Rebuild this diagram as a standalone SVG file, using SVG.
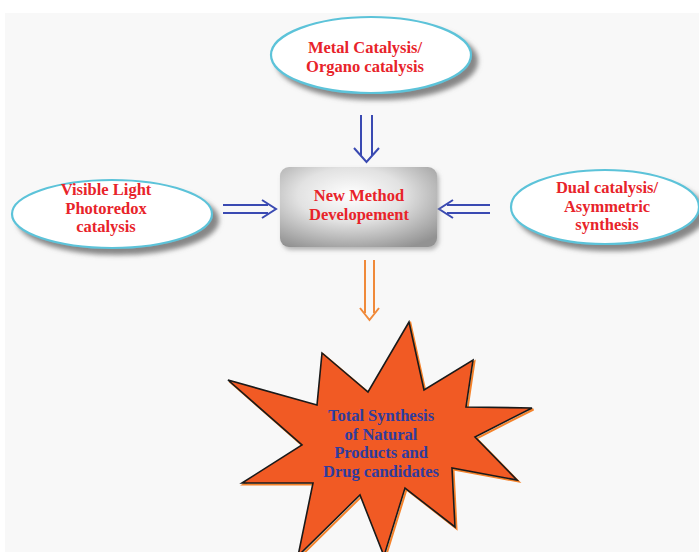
<svg xmlns="http://www.w3.org/2000/svg" width="699" height="552" viewBox="0 0 699 552">
<defs>
<filter id="sh" x="-20%" y="-20%" width="150%" height="150%">
<feDropShadow dx="6" dy="6" stdDeviation="2.5" flood-color="#7a7a7a" flood-opacity="0.9"/>
</filter>
<radialGradient id="box" cx="45%" cy="35%" r="75%">
<stop offset="0" stop-color="#ffffff"/>
<stop offset="0.45" stop-color="#e2e2e2"/>
<stop offset="1" stop-color="#929292"/>
</radialGradient>
<filter id="bsh" x="-10%" y="-10%" width="125%" height="130%">
<feDropShadow dx="2" dy="3" stdDeviation="2" flood-color="#888" flood-opacity="0.6"/>
</filter>
</defs>
<style>
.ell{fill:#ffffff;stroke:#5cc3d9;stroke-width:2.2}
.rt{font-family:"Liberation Serif",serif;font-weight:bold;font-size:16.5px;fill:#e8232a;text-anchor:middle}
.bt{font-family:"Liberation Serif",serif;font-weight:bold;font-size:16.5px;fill:#2f3c9e;text-anchor:middle}
.ab{fill:none;stroke:#3a4ab2;stroke-width:2}
.ao{fill:none;stroke:#f08a3a;stroke-width:2}
</style>
<rect x="0" y="0" width="699" height="552" fill="#ffffff"/>
<rect x="5" y="13" width="694" height="539" fill="#f8f8f8"/>

<g id="connectors">
<path class="ab" d="M361 115V156M372 115V156M354 148L366.5 162L379 148"/>
<path class="ab" d="M223 205H268M223 213H268M262 200L276 209L262 218"/>
<path class="ab" d="M490 205H447M490 213H447M453 200L439 209L453 218"/>
<path class="ao" d="M365 260V313M374 260V313M360 308L369.5 320L379 308"/>
</g>

<g id="metal">
<ellipse class="ell" cx="371" cy="55" rx="100" ry="38" filter="url(#sh)"/>
<text class="rt" x="365" y="53">Metal Catalysis/</text>
<text class="rt" x="365" y="71.5">Organo catalysis</text>
</g>

<g id="visible">
<ellipse class="ell" cx="112" cy="214" rx="100" ry="34" filter="url(#sh)"/>
<text class="rt" x="106" y="195">Visible Light</text>
<text class="rt" x="106" y="213.5">Photoredox</text>
<text class="rt" x="106" y="232">catalysis</text>
</g>

<g id="dual">
<ellipse class="ell" cx="605" cy="207" rx="94" ry="37" filter="url(#sh)"/>
<text class="rt" x="607" y="193">Dual catalysis/</text>
<text class="rt" x="607" y="211.5">Asymmetric</text>
<text class="rt" x="607" y="230">synthesis</text>
</g>

<g id="method">
<rect x="280" y="167" width="157" height="80" rx="9" fill="url(#box)" filter="url(#bsh)"/>
<text class="rt" x="359" y="201">New Method</text>
<text class="rt" x="359" y="219.5">Developement</text>
</g>

<g id="star">
<polygon points="409,322 424,390 473,360 466,407 532,408 475,437 517,480 452,468 455,527 405,488 384,556 360,495 298,556 313,483 242,483 302,445 228,380 317,405 322,353 368,392" fill="none" stroke="#f5822a" stroke-width="2" transform="translate(1.5,1.5)"/>
<polygon points="409,322 424,390 473,360 466,407 532,408 475,437 517,480 452,468 455,527 405,488 384,556 360,495 298,556 313,483 242,483 302,445 228,380 317,405 322,353 368,392" fill="#f15a24" stroke="#1a1a1a" stroke-width="1.6" stroke-linejoin="miter"/>
<text class="bt" x="381" y="421">Total Synthesis</text>
<text class="bt" x="381" y="439.5">of Natural</text>
<text class="bt" x="381" y="458">Products and</text>
<text class="bt" x="381" y="476.5">Drug candidates</text>
</g>
</svg>
